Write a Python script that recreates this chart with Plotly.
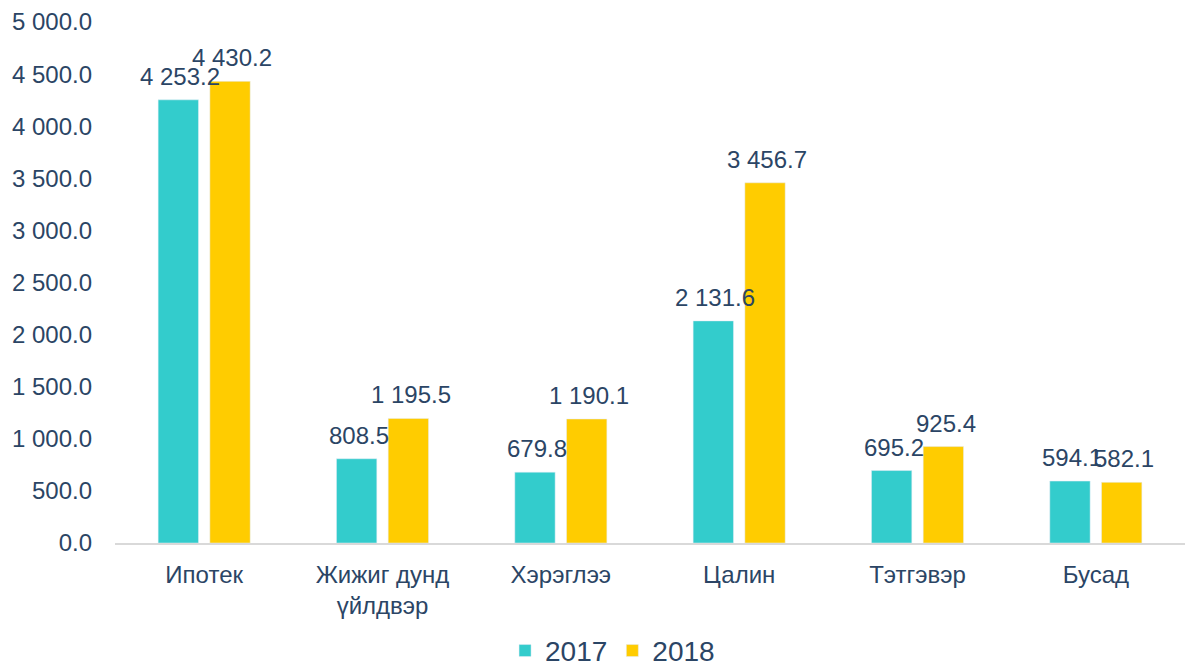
import plotly.graph_objects as go

categories = ["Ипотек", "Жижиг дунд<br>үйлдвэр", "Хэрэглээ", "Цалин", "Тэтгэвэр", "Бусад"]
values_2017 = [4253.2, 808.5, 679.8, 2131.6, 695.2, 594.1]
values_2018 = [4430.2, 1195.5, 1190.1, 3456.7, 925.4, 582.1]
tick_vals = [0, 500, 1000, 1500, 2000, 2500, 3000, 3500, 4000, 4500, 5000]

def fmt(v):
    return f"{v:,.1f}".replace(",", " ")

font_color = "#2B4565"
font_family = "Liberation Sans, Arial"

fig = go.Figure()
fig.add_trace(go.Bar(name="2017", x=categories, y=values_2017, marker_color="#33CCCC"))
fig.add_trace(go.Bar(name="2018", x=categories, y=values_2018, marker_color="#FFCC00"))

annotations = []
for series, shift in ((values_2017, -24), (values_2018, 28)):
    for cat, v in zip(categories, series):
        annotations.append(dict(
            x=cat, y=v, xref="x", yref="y", text=fmt(v), showarrow=False,
            yanchor="bottom", xanchor="center", xshift=shift, yshift=8,
            font=dict(size=24, color=font_color, family=font_family),
        ))

fig.update_layout(
    width=1193, height=658,
    margin=dict(l=107, r=16, t=14, b=123, autoexpand=False),
    plot_bgcolor="white", paper_bgcolor="white",
    barmode="group", bargap=0.42, bargroupgap=0.22,
    font=dict(family=font_family, color=font_color, size=24),
    showlegend=True,
    legend=dict(orientation="h", x=0.465, xanchor="center", y=-0.207, yanchor="middle",
                font=dict(size=28, color=font_color), itemwidth=30, tracegroupgap=0),
    annotations=annotations,
)
fig.update_yaxes(range=[0, 5000], tickvals=tick_vals,
                 ticktext=[fmt(v) for v in tick_vals],
                 showgrid=False, zeroline=False, showline=False, automargin=False,
                 ticklabelstandoff=22, tickfont=dict(size=24, color=font_color))
fig.update_xaxes(showline=True, linecolor="#D9D9D9", linewidth=2, automargin=False,
                 ticks="", ticklabelstandoff=9,
                 tickfont=dict(size=24, color=font_color))

fig.write_html("out.html")
